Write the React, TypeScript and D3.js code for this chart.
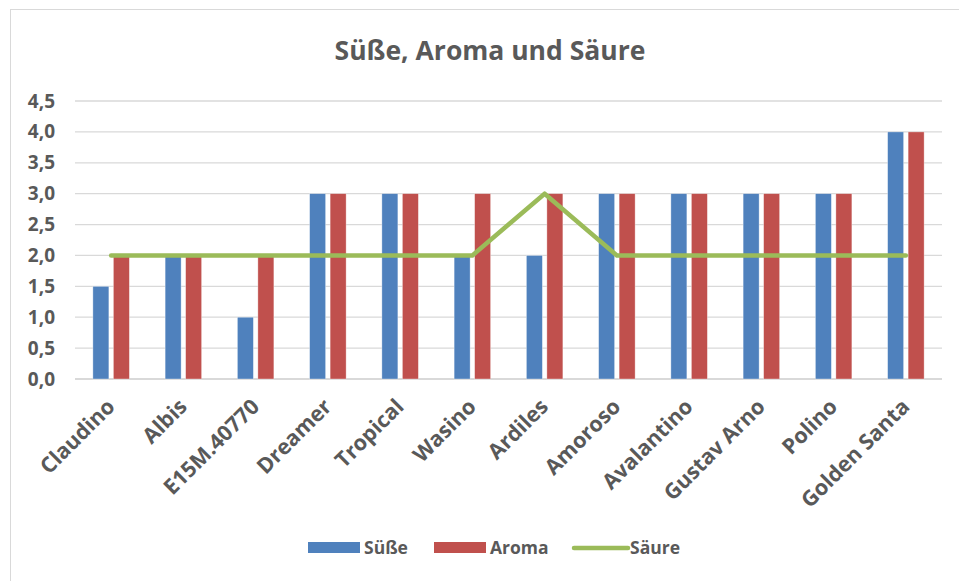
import React from "react";
import * as d3 from "d3";

const categories = ["Claudino", "Albis", "E15M.40770", "Dreamer", "Tropical", "Wasino", "Ardiles", "Amoroso", "Avalantino", "Gustav Arno", "Polino", "Golden Santa"];
const suesse = [1.5, 2, 1, 3, 3, 2, 2, 3, 3, 3, 3, 4];
const aroma = [2, 2, 2, 3, 3, 3, 3, 3, 3, 3, 3, 4];
const saeure = [2, 2, 2, 2, 2, 2, 3, 2, 2, 2, 2, 2];
const yTicks = [0, 0.5, 1, 1.5, 2, 2.5, 3, 3.5, 4, 4.5];
const title = "Süße, Aroma und Säure";
const seriesNames = ["Süße", "Aroma", "Säure"];

const W = 959;
const H = 581;
const FONT = "'Open Sans', sans-serif";
const TEXT = "#595959";
const BLUE = "#4F81BD";
const RED = "#C0504D";
const GREEN = "#9BBB59";

export default function App() {
  const left = 75, right = 942, top = 101, bottom = 379;
  const x = d3.scaleBand<string>().domain(categories).range([left, right]);
  const y = d3.scaleLinear().domain([0, 4.5]).range([bottom, top]);
  const barW = 16;
  const gap = 4.5;
  const line = d3.line<number>()
    .x((_, i) => (x(categories[i]) as number) + x.bandwidth() / 2)
    .y((d) => y(d));

  return (
    <svg width={W} height={H} style={{ position: "absolute", left: 0, top: 0, background: "#fff" }} fontFamily={FONT}>
      <rect x={10.5} y={9.5} width={W + 10} height={H + 10} fill="#fff" stroke="#d9d9d9" strokeWidth={1} />
      <text x={490} y={60} textAnchor="middle" fontSize={26.5} fontWeight="bold" fill={TEXT}>{title}</text>
      {yTicks.map((t) => (
        <g key={t}>
          <line x1={left} x2={right} y1={y(t)} y2={y(t)} stroke="#d9d9d9" strokeWidth={t === 0 ? 2 : 1.3} />
          <text x={55} y={y(t) + 6.5} textAnchor="end" fontSize={19} fontWeight="bold" fill={TEXT}>
            {t.toFixed(1).replace(".", ",")}
          </text>
        </g>
      ))}
      {categories.map((c, i) => {
        const cx = (x(c) as number) + x.bandwidth() / 2;
        return (
          <g key={c}>
            <rect x={cx - gap / 2 - barW} y={y(suesse[i])} width={barW} height={y(0) - y(suesse[i])} fill={BLUE} stroke="#fff" strokeOpacity={0.5} strokeWidth={0.7} />
            <rect x={cx + gap / 2} y={y(aroma[i])} width={barW} height={y(0) - y(aroma[i])} fill={RED} stroke="#fff" strokeOpacity={0.5} strokeWidth={0.7} />
            <text transform={`translate(${cx + 5},${bottom + 29}) rotate(-45)`} textAnchor="end" fontSize={21.5} fontWeight="bold" fill={TEXT}>{c}</text>
          </g>
        );
      })}
      <path d={line(saeure) || ""} fill="none" stroke={GREEN} strokeWidth={4.5} strokeLinecap="round" strokeLinejoin="round" />
      <g fontSize={17.5} fontWeight="bold" fill={TEXT}>
        <rect x={308} y={542} width={52} height={11} fill={BLUE} />
        <text x={364} y={554}>{seriesNames[0]}</text>
        <rect x={434} y={542} width={52} height={11} fill={RED} />
        <text x={490} y={554}>{seriesNames[1]}</text>
        <line x1={574} x2={628} y1={548} y2={548} stroke={GREEN} strokeWidth={4.5} strokeLinecap="round" />
        <text x={630} y={554}>{seriesNames[2]}</text>
      </g>
    </svg>
  );
}
